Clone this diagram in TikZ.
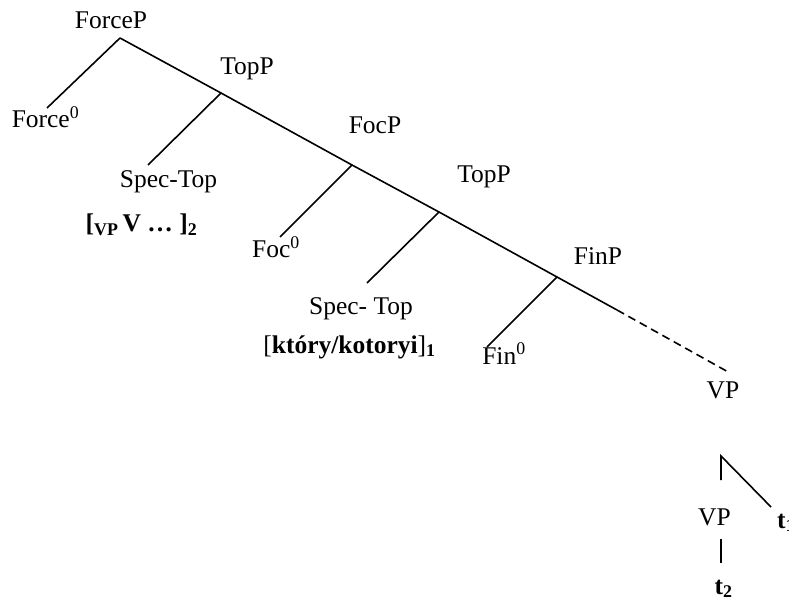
\documentclass[tikz,border=0pt]{standalone}
\usepackage{fontspec}
\setmainfont{Liberation Serif}
\begin{document}
\begin{tikzpicture}[x=1pt,y=-1pt,
  lbl/.style={anchor=base,inner sep=0pt,font=\fontsize{25.5}{30}\selectfont},
  branch/.style={line width=1.6pt},
  dashbranch/.style={line width=1.6pt,dash pattern=on 8pt off 5pt}]
\useasboundingbox (0,0) rectangle (789,601);
% labels
\node[lbl] (forcep) at (111,29) {ForceP};
\node[lbl] (force0) at (45.5,128) {Force\textsuperscript{0}};
\node[lbl] (topp1) at (247,75) {TopP};
\node[lbl] (spectop1) at (168.5,188) {Spec-Top};
\node[lbl] (vpv) at (141.5,232) {\textbf{[\textsubscript{VP}\,V \ldots\ ]\textsubscript{2}}};
\node[lbl] (focp) at (375,134) {FocP};
\node[lbl] (foc0) at (276,258) {Foc\textsuperscript{0}};
\node[lbl] (topp2) at (484,183) {TopP};
\node[lbl] (spectop2) at (361,315) {Spec- Top};
\node[lbl] (ktory) at (349.5,353) {[\textbf{kt\'ory/kotoryi}]\textsubscript{\textbf{1}}};
\node[lbl] (finp) at (598,265) {FinP};
\node[lbl] (fin0) at (504,364) {Fin\textsuperscript{0}};
\node[lbl] (vp1) at (723,398) {VP};
\node[lbl] (vp2) at (714.5,525) {VP};
\node[lbl] (t1) at (786,528) {\textbf{t\textsubscript{1}}};
\node[lbl] (t2) at (723.5,594) {\textbf{t\textsubscript{2}}};
% junctions and branch ends
\coordinate (j0) at (120,38);
\coordinate (j1) at (221,93);
\coordinate (j2) at (352,165);
\coordinate (j3) at (439,212);
\coordinate (j4) at (557,277);
\coordinate (se) at (617,310);
\coordinate (de) at (730,373);
\coordinate (c0) at (47,108);
\coordinate (c1) at (148,165);
\coordinate (c2) at (280,237);
\coordinate (c3) at (367,283);
\coordinate (c4) at (487,347);
\coordinate (b0) at (721,456);
\coordinate (b1) at (721,480);
\coordinate (b2) at (771,507);
\coordinate (b3) at (721,539);
\coordinate (b4) at (721,563);
% branches
\draw[branch] (j0) -- (j1) -- (j2) -- (j3) -- (j4) -- (se);
\draw[dashbranch] (se) -- (de);
\draw[branch] (j0) -- (c0);
\draw[branch] (j1) -- (c1);
\draw[branch] (j2) -- (c2);
\draw[branch] (j3) -- (c3);
\draw[branch] (j4) -- (c4);
\draw[branch] (b1) -- (b0) -- (b2);
\draw[branch] (b3) -- (b4);
\end{tikzpicture}
\end{document}
